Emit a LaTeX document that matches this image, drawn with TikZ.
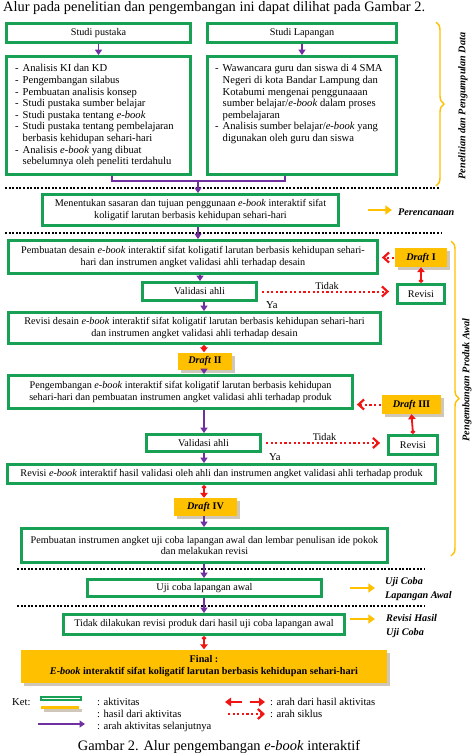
\documentclass[tikz,border=0pt]{standalone}
\usepackage{fontspec}
\setmainfont{Liberation Serif}
\usetikzlibrary{arrows.meta,shadows,decorations.pathreplacing}
\definecolor{aktgreen}{RGB}{24,160,84}
\definecolor{hasilyellow}{RGB}{255,192,0}
\definecolor{arahpurple}{RGB}{112,48,160}
\definecolor{shadowgray}{RGB}{206,199,186}
\definecolor{siklusred}{RGB}{240,20,20}

\begin{document}
\begin{tikzpicture}[x=1pt,y=-1pt,font=\fontsize{10.2}{11.6}\selectfont,
  akt/.style={draw=aktgreen,line width=2.8pt,fill=white,inner sep=0pt,align=center},
  hasil/.style={fill=hasilyellow,inner sep=0pt,align=center,drop shadow={shadow xshift=3pt,shadow yshift=-3pt,fill=shadowgray,opacity=1}},
  lanjut/.style={draw=arahpurple,line width=1.8pt,-{Triangle[width=7pt,length=5.5pt]}},
  hasilarr/.style={draw=siklusred,line width=1.8pt,{Diamond[width=5pt,length=4.5pt]}-{Triangle[width=7.5pt,length=5pt]}},
  hasilket/.style={draw=siklusred,line width=2.6pt,-{Triangle[width=8.5pt,length=6pt]}},
  siklus/.style={draw=siklusred,line width=2pt,dash pattern=on 2.2pt off 2.4pt,-{Straight Barb[width=10pt,length=5.5pt,line width=2.2pt]}},
  tahap/.style={draw=hasilyellow,line width=2.8pt,-{Triangle[width=9pt,length=6.5pt]}},
  batas/.style={line width=2pt,dash pattern=on 2pt off 1.6pt},
  kurung/.style={draw=hasilyellow,line width=1.4pt,decorate,decoration={brace,amplitude=8pt}},
  ket/.style={font=\fontsize{10.2}{14}\selectfont\bfseries\itshape,align=left,inner sep=0pt},
  teks/.style={anchor=west,inner sep=0pt,font=\fontsize{10.6}{12}\selectfont}]
\useasboundingbox (0,0) rectangle (474,753);

\node[anchor=base west,inner sep=0pt,font=\fontsize{14.4}{16}\selectfont] (judul) at (3,11.5) {Alur pada penelitian dan pengembangan ini dapat dilihat pada Gambar 2.};

\node[akt,minimum width=184pt,minimum height=19pt] (pustaka) at (98.5,33) {Studi pustaka};
\node[akt,minimum width=189pt,minimum height=19pt] (lapangan) at (302,33) {Studi Lapangan};
\node[akt,minimum width=184pt,minimum height=118pt] (pustakalist) at (98.5,115.5) {};
\node[akt,minimum width=189pt,minimum height=118pt] (lapanganlist) at (302,115.5) {};
\node[anchor=north west,inner sep=0pt,align=left,font=\fontsize{10.6}{11.6}\selectfont] (pustakateks) at (15,63.5) {\begin{tabular}{@{}l@{\hspace{4pt}}l@{}}
- & Analisis KI dan KD\\
- & Pengembangan silabus\\
- & Pembuatan analisis konsep\\
- & Studi pustaka sumber belajar\\
- & Studi pustaka tentang \emph{e-book}\\
- & Studi pustaka tentang pembelajaran\\
  & berbasis kehidupan sehari-hari\\
- & Analisis \emph{e-book} yang dibuat\\
  & sebelumnya oleh peneliti terdahulu
\end{tabular}};
\node[anchor=north west,inner sep=0pt,align=left,font=\fontsize{10.6}{11.6}\selectfont] (lapanganteks) at (215,63.5) {\begin{tabular}{@{}l@{\hspace{4pt}}l@{}}
- & Wawancara guru dan siswa di 4 SMA\\
  & Negeri di kota Bandar Lampung dan\\
  & Kotabumi mengenai penggunaaan\\
  & sumber belajar/\emph{e-book} dalam proses\\
  & pembelajaran\\
- & Analisis sumber belajar/\emph{e-book} yang\\
  & digunakan oleh guru dan siswa
\end{tabular}};

\node[akt,minimum width=296pt,minimum height=31pt] (tujuan) at (190.5,210) {Menentukan sasaran dan tujuan penggunaan \emph{e-book} interaktif sifat\\koligatif larutan berbasis kehidupan sehari-hari};
\node[akt,minimum width=369pt,minimum height=33pt] (desain) at (193,257) {Pembuatan desain \emph{e-book} interaktif sifat koligatif larutan berbasis kehidupan sehari-\\hari dan instrumen angket validasi ahli terhadap desain};
\node[hasil,minimum width=52pt,minimum height=19pt] (draftI) at (421,257.5) {\textbf{\textit{Draft} I}};
\node[akt,minimum width=114pt,minimum height=18pt] (validasiI) at (199.5,291.5) {Validasi ahli};
\node[akt,minimum width=47pt,minimum height=19pt] (revisiI) at (421,294) {Revisi};
\node[akt,minimum width=372pt,minimum height=31pt] (revdesain) at (194.5,328) {Revisi desain \emph{e-book} interaktif sifat koligatif larutan berbasis kehidupan sehari-hari\\dan instrumen angket validasi ahli terhadap desain};
\node[hasil,minimum width=54pt,minimum height=17pt] (draftII) at (205,361) {\textbf{\textit{Draft} II}};
\node[akt,minimum width=344pt,minimum height=33pt] (pengembangan) at (180.5,392) {Pengembangan \emph{e-book} interaktif sifat koligatif larutan berbasis kehidupan\\sehari-hari dan pembuatan instrumen angket validasi ahli terhadap produk};
\node[hasil,minimum width=59pt,minimum height=19pt] (draftIII) at (411.5,404.5) {\textbf{\textit{Draft} III}};
\node[akt,minimum width=114pt,minimum height=17pt] (validasiII) at (203.5,443) {Validasi ahli};
\node[akt,minimum width=49pt,minimum height=19pt] (revisiII) at (413,445) {Revisi};
\node[akt,minimum width=428pt,minimum height=19pt] (revproduk) at (221.5,474) {Revisi \emph{e-book} interaktif hasil validasi oleh ahli dan instrumen angket validasi ahli terhadap produk};
\node[hasil,minimum width=63pt,minimum height=18pt] (draftIV) at (205.5,507) {\textbf{\textit{Draft} IV}};
\node[akt,minimum width=366pt,minimum height=34pt] (instrumen) at (204.5,545.5) {Pembuatan instrumen angket uji coba lapangan awal dan lembar penulisan ide pokok\\dan melakukan revisi};
\node[akt,minimum width=234pt,minimum height=17pt] (ujicoba) at (204.5,588) {Uji coba lapangan awal};
\node[akt,minimum width=281pt,minimum height=20pt] (tidakrevisi) at (204,624.5) {Tidak dilakukan revisi produk dari hasil uji coba lapangan awal};
\node[hasil,minimum width=366pt,minimum height=33pt] (final) at (204,666) {\textbf{Final :}\\\textbf{\textit{E-book} interaktif sifat koligatif larutan berbasis kehidupan sehari-hari}};

\draw[batas] (5,188) -- (440,188);
\draw[batas] (5,233) -- (442,233);
\draw[batas] (17,569) -- (425,569);
\draw[batas] (17,606) -- (425,606);

\coordinate (gabung) at (198,181);
\coordinate (kolom) at (204,0);
\draw[lanjut] (pustaka) -- (pustakalist);
\draw[lanjut] (lapangan) -- (lapanganlist);
\draw[draw=arahpurple,line width=1.8pt] ([xshift=13.5pt]pustakalist.south) |- (gabung) -| ([xshift=-17pt]lapanganlist.south);
\draw[lanjut] (gabung) -- (gabung |- tujuan.north);
\draw[lanjut] (tujuan.south -| gabung) -- (desain.north -| gabung);
\draw[lanjut] ([xshift=2pt]desain.south -| gabung) -- ([xshift=2pt]validasiI.north -| gabung);
\draw[lanjut] (validasiI.south -| kolom) -- (revdesain.north -| kolom);
\draw[hasilarr] (revdesain.south -| kolom) -- (draftII.north -| kolom);
\draw[lanjut] (draftII.south -| kolom) -- (pengembangan.north -| kolom);
\draw[lanjut] (pengembangan.south -| kolom) -- (validasiII.north -| kolom);
\draw[lanjut] (validasiII.south -| kolom) -- (revproduk.north -| kolom);
\draw[hasilarr] (revproduk.south -| kolom) -- (draftIV.north -| kolom);
\draw[lanjut] (draftIV.south -| kolom) -- (instrumen.north -| kolom);
\draw[lanjut] (instrumen.south -| kolom) -- (ujicoba.north -| kolom);
\draw[lanjut] (ujicoba.south -| kolom) -- (tidakrevisi.north -| kolom);
\draw[hasilarr] (tidakrevisi.south -| kolom) -- (final.north -| kolom);

\draw[siklus,shorten <=4pt,shorten >=7pt] (validasiI.east) -- node[above,inner sep=1pt] (tidakI) {Tidak} (validasiI.east -| revisiI.west);
\draw[hasilarr] (revisiI.north) -- (draftI.south);
\draw[siklus,shorten <=1pt,shorten >=3pt] (draftI.west) -- (draftI.west -| desain.east);
\node[teks] (yaI) at (266,305) {Ya};
\draw[siklus,shorten <=4pt,shorten >=7pt] (validasiII.east) -- node[above,inner sep=1pt] (tidakII) {Tidak} (validasiII.east -| revisiII.west);
\draw[hasilarr] (revisiII.north) -- (draftIII.south);
\draw[siklus,shorten <=1pt,shorten >=3pt] (draftIII.west) -- (draftIII.west -| pengembangan.east);
\node[teks] (yaII) at (269,457) {Ya};

\node[ket,anchor=west] (perencanaan) at (398,212) {Perencanaan};
\draw[tahap] ([xshift=28pt]tujuan.east) -- +(24,0);
\node[ket,anchor=west] (ujiawal) at (385,589) {Uji Coba\\Lapangan Awal};
\draw[tahap] ([xshift=27pt]ujicoba.east) -- +(25,0);
\node[ket,anchor=west] (revhasil) at (386,626) {Revisi Hasil\\Uji Coba};
\draw[tahap] ([xshift=4pt,yshift=5.5pt]tidakrevisi.east) -- +(25,0);

\draw[kurung] (436,22) -- (436,186);
\node[ket,rotate=90] (kumpul) at (463,106) {Penelitian dan Pengumpulan Data};
\draw[kurung] (451,241) -- (451,556);
\node[ket,rotate=90] (produkawal) at (467,380) {Pengembangan Produk Awal};

\node[teks] (ket) at (12,702) {Ket:};
\node[akt,line width=2.2pt,minimum width=40pt,minimum height=3pt] (ketakt) at (61,698.5) {};
\node[hasil,minimum width=38pt,minimum height=3pt] (kethasil) at (60,707.5) {};
\coordinate (ketlanjut) at (38,724);
\draw[lanjut] (ketlanjut) -- +(47,0);
\node[teks] (aktivitas) at (97,702) {: aktivitas};
\node[teks] (hasilakt) at (97,714) {: hasil dari aktivitas};
\node[teks] (selanjutnya) at (97,727) {: arah aktivitas selanjutnya};
\coordinate (ketmerah) at (242,702);
\draw[hasilket] (ketmerah) -- +(-17,0);
\draw[hasilket] ([xshift=8pt]ketmerah) -- +(15,0);
\coordinate (ketsiklus) at (228,714);
\draw[siklus] (ketsiklus) -- +(37,0);
\node[teks] (arahhasil) at (270,702) {: arah dari hasil aktivitas};
\node[teks] (arahsiklus) at (270,714) {: arah siklus};

\node[anchor=base,inner sep=0pt,font=\fontsize{14.4}{16}\selectfont] (gambar) at (219,750) {Gambar 2. Alur pengembangan \emph{e-book} interaktif};
\end{tikzpicture}
\end{document}
